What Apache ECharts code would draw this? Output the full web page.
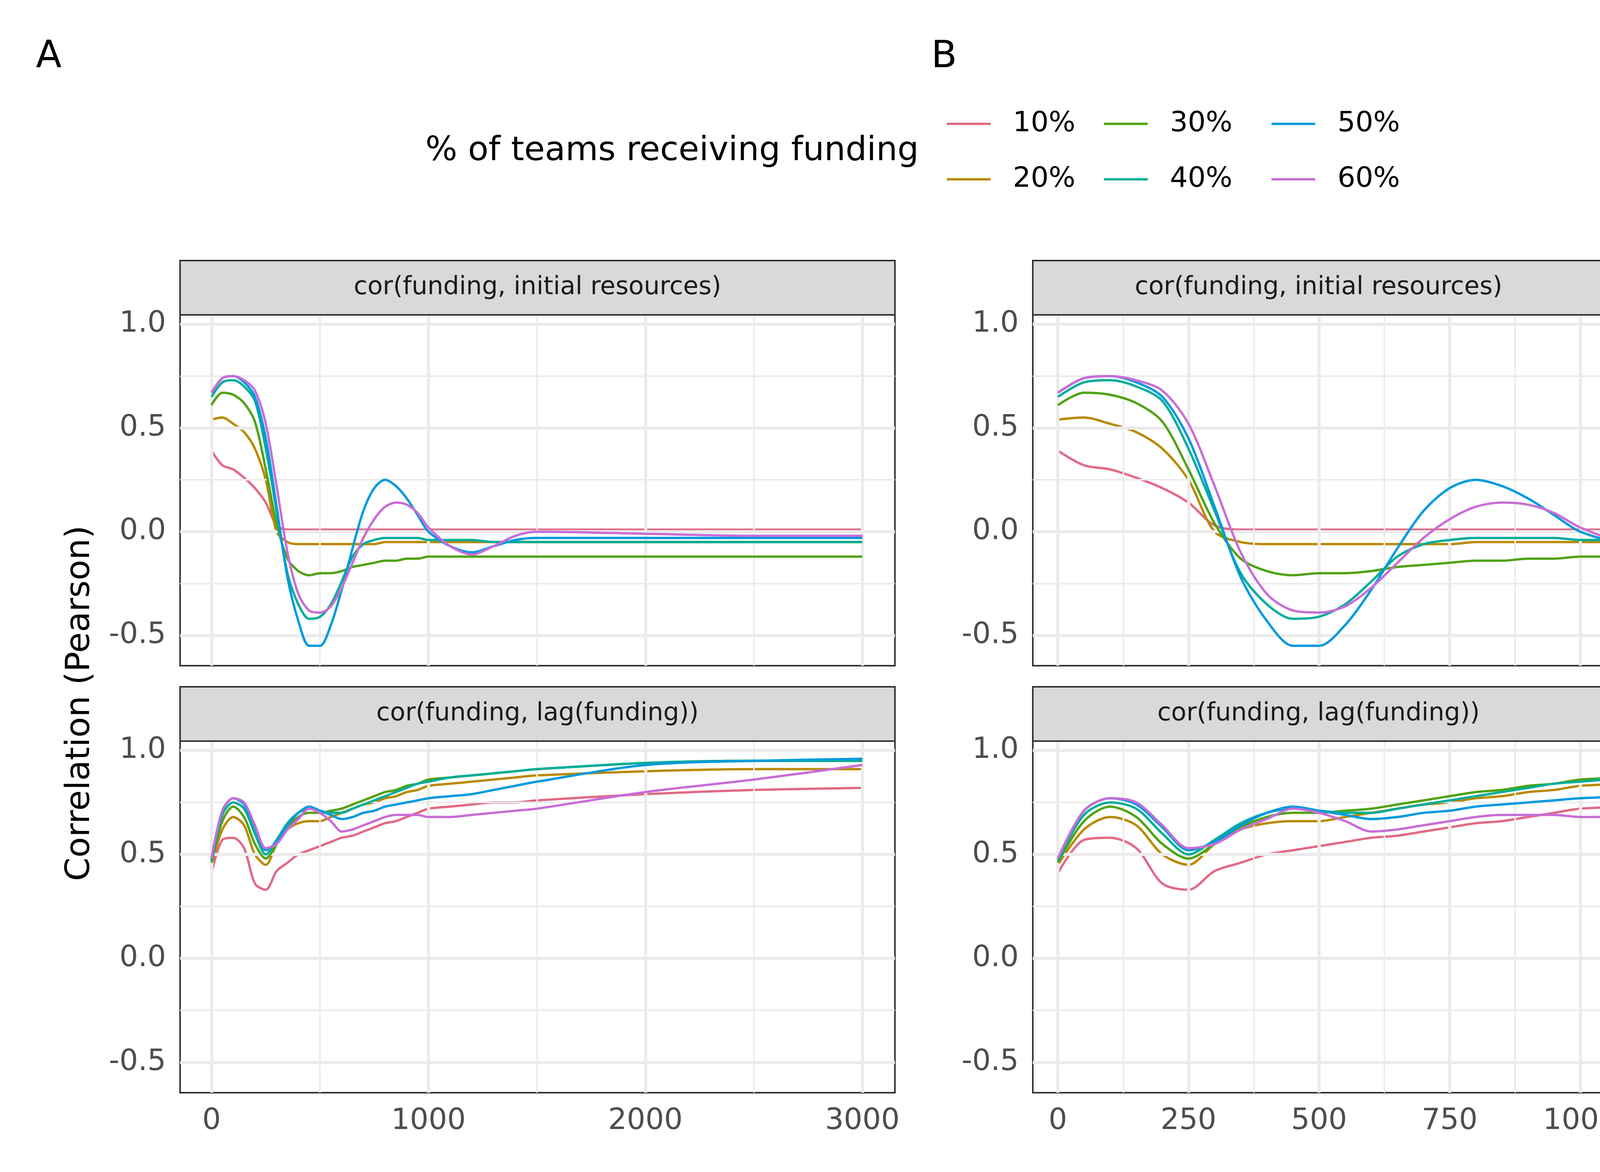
<!DOCTYPE html>
<html><head><meta charset="utf-8">
<script src="https://cdn.jsdelivr.net/npm/echarts@6/dist/echarts.min.js"></script>
<style>html,body{margin:0;background:#fff}#c{width:4200px;height:3000px}</style>
</head><body><div id="c"></div>
<script>
const steps = [0,50,100,150,200,250,300,350,400,450,500,550,600,650,700,750,800,850,900,950,1000,1100,1200,1300,1400,1500,2000,2500,3000];
const groups = ['10%','20%','30%','40%','50%','60%'];
const colors = ['#E16A86','#B88A00','#50A315','#00AD9A','#009ADE','#C86DD7'];
// cor(funding, initial resources)
const init10 = [0.39,0.32,0.30,0.26,0.21,0.14,0.03,0.01,0.01,0.01,0.01,0.01,0.01,0.01,0.01,0.01,0.01,0.01,0.01,0.01,0.01,0.01,0.01,0.01,0.01,0.01,0.01,0.01,0.01];
const init20 = [0.54,0.55,0.52,0.48,0.40,0.25,0.0,-0.05,-0.06,-0.06,-0.06,-0.06,-0.06,-0.06,-0.06,-0.06,-0.05,-0.05,-0.05,-0.05,-0.05,-0.05,-0.05,-0.05,-0.05,-0.05,-0.05,-0.05,-0.05];
const init30 = [0.61,0.67,0.66,0.62,0.53,0.30,0.04,-0.13,-0.19,-0.21,-0.20,-0.20,-0.19,-0.17,-0.16,-0.15,-0.14,-0.14,-0.13,-0.13,-0.12,-0.12,-0.12,-0.12,-0.12,-0.12,-0.12,-0.12,-0.12];
const init40 = [0.65,0.72,0.73,0.70,0.63,0.40,0.10,-0.20,-0.35,-0.42,-0.41,-0.35,-0.24,-0.12,-0.06,-0.04,-0.03,-0.03,-0.03,-0.03,-0.04,-0.04,-0.04,-0.05,-0.05,-0.05,-0.05,-0.05,-0.05];
const init50 = [0.67,0.74,0.75,0.72,0.65,0.45,0.12,-0.22,-0.43,-0.55,-0.55,-0.45,-0.28,-0.08,0.10,0.21,0.25,0.22,0.16,0.08,0.0,-0.07,-0.10,-0.07,-0.04,-0.03,-0.03,-0.03,-0.03];
const init60 = [0.67,0.74,0.75,0.73,0.68,0.52,0.22,-0.10,-0.30,-0.38,-0.39,-0.36,-0.27,-0.15,-0.03,0.06,0.12,0.14,0.13,0.09,0.02,-0.07,-0.11,-0.07,-0.02,0.0,-0.01,-0.02,-0.02];
// cor(funding, lag(funding))
const lag10 = [0.41,0.57,0.58,0.53,0.36,0.33,0.42,0.46,0.50,0.52,0.54,0.56,0.58,0.59,0.61,0.63,0.65,0.66,0.68,0.70,0.72,0.73,0.74,0.75,0.75,0.76,0.79,0.81,0.82];
const lag20 = [0.45,0.62,0.68,0.64,0.50,0.45,0.55,0.62,0.65,0.66,0.66,0.68,0.70,0.72,0.74,0.75,0.77,0.78,0.80,0.81,0.83,0.84,0.85,0.86,0.87,0.88,0.90,0.91,0.91];
const lag30 = [0.46,0.66,0.73,0.68,0.55,0.48,0.55,0.63,0.68,0.70,0.70,0.71,0.72,0.74,0.76,0.78,0.80,0.81,0.83,0.84,0.86,0.87,0.88,0.89,0.90,0.91,0.94,0.95,0.95];
const lag40 = [0.47,0.69,0.75,0.72,0.60,0.50,0.57,0.65,0.70,0.72,0.71,0.70,0.70,0.72,0.74,0.76,0.78,0.80,0.82,0.84,0.85,0.87,0.88,0.89,0.90,0.91,0.94,0.95,0.95];
const lag50 = [0.48,0.71,0.77,0.74,0.63,0.52,0.56,0.64,0.70,0.73,0.71,0.69,0.67,0.68,0.70,0.71,0.73,0.74,0.75,0.76,0.77,0.78,0.79,0.81,0.83,0.85,0.93,0.95,0.96];
const lag60 = [0.48,0.71,0.77,0.75,0.64,0.53,0.55,0.62,0.67,0.72,0.70,0.66,0.61,0.62,0.64,0.66,0.68,0.69,0.69,0.69,0.68,0.68,0.69,0.70,0.71,0.72,0.80,0.86,0.93];
const initAll = [init10,init20,init30,init40,init50,init60];
const lagAll = [lag10,lag20,lag30,lag40,lag50,lag60];
const yTicks = [-0.5,0,0.5,1.0];
const yMinor = [-0.25,0.25,0.75];
const xTicksA = [0,1000,2000,3000], xMinorA = [500,1500,2500];
const xTicksB = [0,250,500,750,1000], xMinorB = [125,375,625,875];

const chart = echarts.init(document.getElementById('c'));
const F = 'DejaVu Sans';
const panels = [
  {l:461, r:2291, t:806, b:1704, xr:[-145,3150], xt:xTicksA, xm:xMinorA, data:initAll, lab:false, strip:'cor(funding, initial resources)'},
  {l:2644, r:4107, t:806, b:1704, xr:[-48,1046], xt:xTicksB, xm:xMinorB, data:initAll, lab:false, strip:'cor(funding, initial resources)'},
  {l:461, r:2291, t:1897, b:2797, xr:[-145,3150], xt:xTicksA, xm:xMinorA, data:lagAll, lab:true, strip:'cor(funding, lag(funding))'},
  {l:2644, r:4107, t:1897, b:2797, xr:[-48,1046], xt:xTicksB, xm:xMinorB, data:lagAll, lab:true, strip:'cor(funding, lag(funding))'}
];
const grid=[], xAxis=[], yAxis=[], series=[], graphic=[], legend=[];
panels.forEach((p,i)=>{
  grid.push({left:p.l, top:p.t, width:p.r-p.l, height:p.b-p.t, show:true, borderColor:'#333333', borderWidth:4, backgroundColor:'#fff'});
  xAxis.push({type:'value', gridIndex:i, min:p.xr[0], max:p.xr[1], splitLine:{show:false}, axisLine:{show:false},
    axisTick:{show:p.lab, length:22, lineStyle:{color:'#333',width:6}, customValues:p.xt},
    axisLabel:{show:p.lab, customValues:p.xt, fontFamily:F, fontSize:75, color:'#4D4D4D', margin:36, formatter:v=>String(v)}});
  yAxis.push({type:'value', gridIndex:i, min:-0.646, max:1.045, splitLine:{show:false}, axisLine:{show:false},
    axisTick:{show:true, length:22, lineStyle:{color:'#333',width:6}, customValues:yTicks},
    axisLabel:{customValues:yTicks, fontFamily:F, fontSize:75, color:'#4D4D4D', margin:36, formatter:v=>v.toFixed(1)}});
  const ml = [];
  p.xm.forEach(v=>ml.push({xAxis:v, lineStyle:{width:4}}));
  yMinor.forEach(v=>ml.push({yAxis:v, lineStyle:{width:4}}));
  p.xt.forEach(v=>ml.push({xAxis:v, lineStyle:{width:8}}));
  yTicks.forEach(v=>ml.push({yAxis:v, lineStyle:{width:8}}));
  series.push({type:'line', xAxisIndex:i, yAxisIndex:i, data:[], silent:true, z:1,
    markLine:{silent:true, symbol:'none', label:{show:false}, animation:false, lineStyle:{color:'#EBEBEB', type:'solid'}, data:ml}});
  p.data.forEach((arr,k)=>{
    series.push({name:groups[k], type:'line', xAxisIndex:i, yAxisIndex:i, showSymbol:false, smooth:0.3, z:3+k,
      lineStyle:{width:6, color:colors[k]}, itemStyle:{color:colors[k]},
      data:steps.map((x,j)=>[x,arr[j]])});
  });
  graphic.push({type:'rect', shape:{x:p.l, y:p.t-139, width:p.r-p.l, height:139}, style:{fill:'#D9D9D9', stroke:'#333', lineWidth:4}, z:10});
  graphic.push({type:'text', x:(p.l+p.r)/2, y:p.t-70, style:{text:p.strip, font:'64px "DejaVu Sans"', fill:'#1A1A1A', textAlign:'center', textVerticalAlign:'middle'}, z:11});
});
const lx=[2419,2419,2821,2821,3250,3250], ly=[316,458,316,458,316,458];
groups.forEach((g,k)=>legend.push({data:[g], left:lx[k], top:ly[k]-40, icon:'rect', itemWidth:112, itemHeight:6, itemGap:0,
  textStyle:{fontFamily:F, fontSize:72, color:'#000', padding:[0,0,0,52]}}));
graphic.push({type:'text', x:2352, y:388, style:{text:'% of teams receiving funding', font:'86px "DejaVu Sans"', fill:'#000', textAlign:'right', textVerticalAlign:'middle'}});
graphic.push({type:'text', x:92, y:147, style:{text:'A', font:'96px "DejaVu Sans"', fill:'#000', textVerticalAlign:'middle'}});
graphic.push({type:'text', x:2384, y:147, style:{text:'B', font:'96px "DejaVu Sans"', fill:'#000', textVerticalAlign:'middle'}});
graphic.push({type:'text', x:206, y:1800, rotation:Math.PI/2, style:{text:'Correlation (Pearson)', font:'86px "DejaVu Sans"', fill:'#000', textAlign:'center', textVerticalAlign:'middle'}});
chart.setOption({animation:false, backgroundColor:'#fff', grid, xAxis, yAxis, series, graphic, legend});
</script></body></html>
